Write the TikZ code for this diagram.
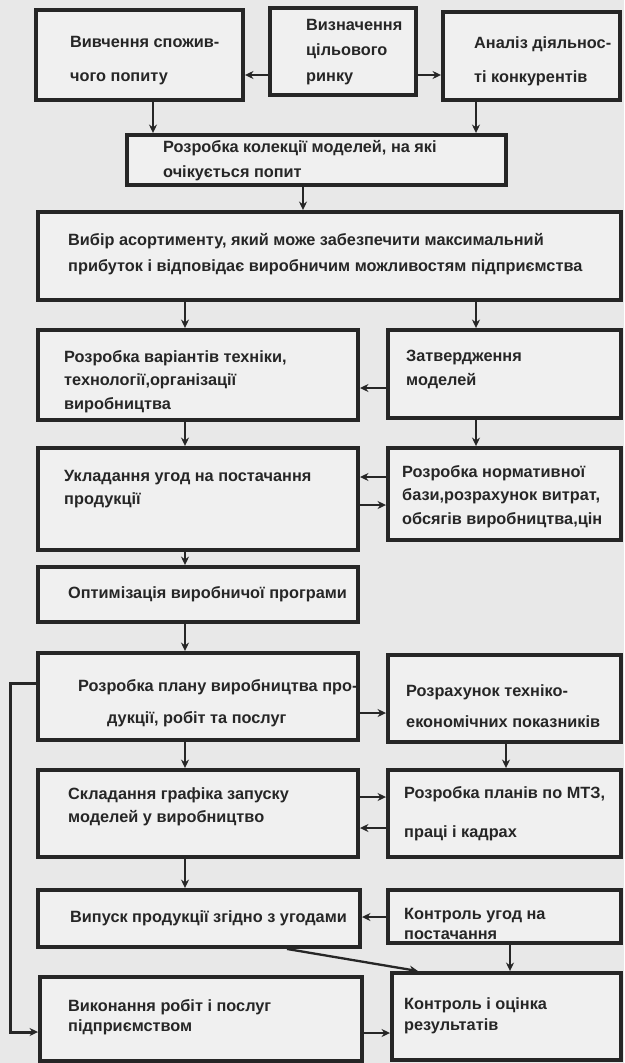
\documentclass[tikz,border=0pt]{standalone}
\usepackage{fontspec}
\setmainfont{Liberation Sans}
\usetikzlibrary{arrows.meta}
\definecolor{bgc}{gray}{0.91}
\definecolor{boxc}{gray}{0.94}
\definecolor{inkc}{gray}{0.15}
\newcommand\mybox[8]{%
  \pgfmathsetmacro\mybw{#4-#2}%
  \pgfmathsetmacro\mybh{#5-#3}%
  \node[boxst, minimum width=\mybw pt, minimum height=\mybh pt] (#1) at ({(#2+#4)/2},{(#3+#5)/2}) {};
  \node[txtst] (#1t) at (#6,#7) {#8};}
\begin{document}
\begin{tikzpicture}[x=1pt,y=-1pt,
  boxst/.style={draw=inkc, fill=boxc, line width=3.9pt, inner sep=0pt},
  txtst/.style={anchor=north west, inner sep=0pt, align=left, text=inkc,
    font=\fontsize{16.3}{24}\selectfont\bfseries},
  arr/.style={draw=inkc, line width=2.3pt, -{Stealth[length=8.5pt,width=8pt]}},
  fb/.style={draw=inkc, line width=3pt, -{Stealth[length=8.5pt,width=8pt]}}]
\fill[bgc] (0,0) rectangle (624,1063);
\useasboundingbox (0,0) rectangle (624,1063);
\mybox{A}{36}{10}{243}{100}{70}{36}{Вивчення спожив-\\[10pt]чого попиту}
\mybox{B}{270}{8}{416}{95}{306}{19}{Визначення\\[1.5pt]цільового\\[1.5pt]ринку}
\mybox{C}{443}{12}{620}{100}{474}{36}{Аналіз діяльнос-\\[10pt]ті конкурентів}
\mybox{D}{127}{135}{506}{185}{163}{140}{Розробка колекції моделей, на які\\[1pt]очікується попит}
\mybox{E}{38}{212}{621}{300}{68}{233}{Вибір асортименту, який може забезпечити максимальний\\[2pt]прибуток і відповідає виробничим можливостям підприємства}
\mybox{F}{38}{330}{358}{420}{64}{350}{Розробка варіантів техніки,\\[-0.5pt]технології,організації\\[-0.5pt]виробництва}
\mybox{G}{388}{330}{621}{418}{406}{350}{Затвердження\\[-0.5pt]моделей}
\mybox{H}{38}{448}{358}{550}{64}{470}{Укладання угод на постачання\\[-1pt]продукції}
\mybox{I}{388}{448}{621}{540}{402}{465}{Розробка нормативної\\[-0.5pt]бази,розрахунок витрат,\\[-0.5pt]обсягів виробництва,цін}
\mybox{J}{38}{567}{358}{622}{68}{586}{Оптимізація виробничої програми}
\mybox{K}{38}{653}{358}{740}{78}{679}{Розробка плану виробництва про-\\[8pt]\hspace*{29pt}дукції, робіт та послуг}
\mybox{L}{388}{655}{621}{742}{406}{684}{Розрахунок техніко-\\[7pt]економічних показників}
\mybox{M}{38}{770}{358}{857}{68}{787}{Складання графіка запуску\\[-1pt]моделей у виробництво}
\mybox{N}{388}{770}{621}{857}{404}{786}{Розробка планів по МТЗ,\\[15pt]праці і кадрах}
\mybox{O}{38}{890}{360}{947}{70}{910}{Випуск продукції згідно з угодами}
\mybox{P}{388}{890}{621}{943}{404}{908}{Контроль угод на\\[-4pt]постачання}
\mybox{Q}{392}{973}{621}{1060}{404}{997}{Контроль і оцінка\\[-3pt]результатів}
\mybox{R}{40}{977}{362}{1061}{68}{999}{Виконання робіт і послуг\\[-4pt]підприємством}
% connectors
\draw[arr] (B.west |- 0,75) -- (A.east |- 0,75);
\draw[arr] (B.east |- 0,75) -- (C.west |- 0,75);
\draw[arr] (A.south -| 153,0) -- (D.north -| 153,0);
\draw[arr] (C.south -| 476,0) -- (D.north -| 476,0);
\draw[arr] (D.south -| 303,0) -- (E.north -| 303,0);
\draw[arr] (E.south -| 185,0) -- (F.north -| 185,0);
\draw[arr] (E.south -| 476,0) -- (G.north -| 476,0);
\draw[arr] (G.west |- 0,388) -- (F.east |- 0,388);
\draw[arr] (F.south -| 185,0) -- (H.north -| 185,0);
\draw[arr] (G.south -| 476,0) -- (I.north -| 476,0);
\draw[arr] (I.west |- 0,477) -- (H.east |- 0,477);
\draw[arr] (H.east |- 0,505) -- (I.west |- 0,505);
\draw[arr] (H.south -| 185,0) -- (J.north -| 185,0);
\draw[arr] (J.south -| 185,0) -- (K.north -| 185,0);
\draw[arr] (K.east |- 0,713) -- (L.west |- 0,713);
\draw[arr] (K.south -| 185,0) -- (M.north -| 185,0);
\draw[arr] (L.south -| 506,0) -- (N.north -| 506,0);
\draw[arr] (M.east |- 0,797) -- (N.west |- 0,797);
\draw[arr] (N.west |- 0,828) -- (M.east |- 0,828);
\draw[arr] (M.south -| 185,0) -- (O.north -| 185,0);
\draw[arr] (P.west |- 0,917) -- (O.east |- 0,917);
\draw[arr] (O.south -| 287,0) -- (Q.north -| 418,0);
\draw[arr] (P.south -| 510,0) -- (Q.north -| 510,0);
\draw[arr] (R.east |- 0,1033) -- (Q.west |- 0,1033);
\draw[fb] (K.west |- 0,683) -- (10,683) -- (10,1032) -- (R.west |- 0,1032);
\end{tikzpicture}
\end{document}
